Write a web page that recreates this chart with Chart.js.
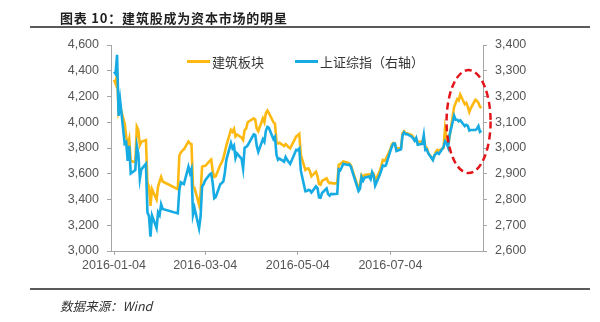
<!DOCTYPE html>
<html>
<head>
<meta charset="utf-8">
<script src="https://cdn.jsdelivr.net/npm/chart.js@4.4.1/dist/chart.umd.min.js"></script>
<style>
  body { margin: 0; background: #fff; }
  #wrap { position: relative; width: 600px; height: 322px; overflow: hidden; font-family: "Noto Sans CJK SC", sans-serif; }
  #chart { position: absolute; left: 0; top: 0; }
  .title { position: absolute; left: 60px; top: 8px; font-size: 13px; font-weight: bold; color: #1f1f1f; letter-spacing: 0.8px; white-space: nowrap; }
  .rule { position: absolute; left: 30px; width: 560px; height: 2px; background: #5a5a5a; }
  .source { position: absolute; left: 60px; top: 296px; font-size: 12.5px; font-style: italic; color: #333; white-space: nowrap; }
  .legend { position: absolute; top: 52px; font-size: 13px; color: #333; white-space: nowrap; display: flex; align-items: center; }
  .legend i { display: inline-block; width: 23px; height: 3px; margin-right: 2px; }
</style>
</head>
<body>
<div id="wrap">
  <canvas id="chart" width="600" height="322"></canvas>
  <div class="title">图表 10：建筑股成为资本市场的明星</div>
  <div class="rule" style="top:26px"></div>
  <div class="rule" style="top:288px"></div>
  <div class="source">数据来源：Wind</div>
  <div class="legend" style="left:187px"><i style="background:#FDB912"></i>建筑板块</div>
  <div class="legend" style="left:295px"><i style="background:#16ABE3"></i>上证综指（右轴）</div>
</div>
<script>
// trading days, 2016-01-04 .. 2016-09-02
const dates = [
  '2016-01-04','2016-01-05','2016-01-06','2016-01-07','2016-01-08','2016-01-11','2016-01-12','2016-01-13','2016-01-14','2016-01-15',
  '2016-01-18','2016-01-19','2016-01-20','2016-01-21','2016-01-22','2016-01-25','2016-01-26','2016-01-27','2016-01-28','2016-01-29',
  '2016-02-01','2016-02-02','2016-02-03','2016-02-04','2016-02-05','2016-02-15','2016-02-16','2016-02-17','2016-02-18','2016-02-19',
  '2016-02-22','2016-02-23','2016-02-24','2016-02-25','2016-02-26','2016-02-29',
  '2016-03-01','2016-03-02','2016-03-03','2016-03-04','2016-03-07','2016-03-08','2016-03-09','2016-03-10','2016-03-11','2016-03-14',
  '2016-03-15','2016-03-16','2016-03-17','2016-03-18','2016-03-21','2016-03-22','2016-03-23','2016-03-24','2016-03-25','2016-03-28',
  '2016-03-29','2016-03-30','2016-03-31',
  '2016-04-01','2016-04-05','2016-04-06','2016-04-07','2016-04-08','2016-04-11','2016-04-12','2016-04-13','2016-04-14','2016-04-15',
  '2016-04-18','2016-04-19','2016-04-20','2016-04-21','2016-04-22','2016-04-25','2016-04-26','2016-04-27','2016-04-28','2016-04-29',
  '2016-05-03','2016-05-04','2016-05-05','2016-05-06','2016-05-09','2016-05-10','2016-05-11','2016-05-12','2016-05-13','2016-05-16',
  '2016-05-17','2016-05-18','2016-05-19','2016-05-20','2016-05-23','2016-05-24','2016-05-25','2016-05-26','2016-05-27','2016-05-30',
  '2016-05-31',
  '2016-06-01','2016-06-02','2016-06-03','2016-06-06','2016-06-07','2016-06-08','2016-06-13','2016-06-14','2016-06-15','2016-06-16',
  '2016-06-17','2016-06-20','2016-06-21','2016-06-22','2016-06-23','2016-06-24','2016-06-27','2016-06-28','2016-06-29','2016-06-30',
  '2016-07-01','2016-07-04','2016-07-05','2016-07-06','2016-07-07','2016-07-08','2016-07-11','2016-07-12','2016-07-13','2016-07-14',
  '2016-07-15','2016-07-18','2016-07-19','2016-07-20','2016-07-21','2016-07-22','2016-07-25','2016-07-26','2016-07-27','2016-07-28',
  '2016-07-29',
  '2016-08-01','2016-08-02','2016-08-03','2016-08-04','2016-08-05','2016-08-08','2016-08-09','2016-08-10','2016-08-11','2016-08-12',
  '2016-08-15','2016-08-16','2016-08-17','2016-08-18','2016-08-19','2016-08-22','2016-08-23','2016-08-24','2016-08-25','2016-08-26',
  '2016-08-29','2016-08-30','2016-08-31',
  '2016-09-01','2016-09-02'
];

// 建筑板块 (left axis)
const buildIdx = [
  4330,4300,4380,4080,4120,3990,3890,3820,3870,3700,3690,3966,3940,3823,3849,3862,3530,3500,3350,3480,
  3400,3500,3540,3575,3540,3480,3740,3765,3780,3790,3850,3835,3830,3500,3490,3360,
  3450,3655,3660,3660,3700,3710,3620,3575,3580,3670,3690,3720,3770,3820,3940,3925,3948,3890,3905,3880,3862,3940,3950,
  4000,4030,4020,3950,3930,4030,4000,4070,4090,4070,4000,3990,3845,3835,3840,3815,3830,3820,3805,3797,
  3890,3900,3910,3746,3630,3640,3642,3620,3580,3616,3580,3520,3515,3545,3565,3538,3526,3530,3525,3525,3670,
  3675,3685,3695,3685,3680,3665,3485,3520,3590,3575,3590,3595,3585,3610,3600,3545,3620,3660,3707,3700,
  3715,3790,3830,3840,3830,3797,3800,3915,3930,3915,3914,3900,3885,3862,3870,3850,3849,3880,3810,3800,3760,
  3712,3740,3771,3785,3780,3800,3950,3880,3830,3890,4120,4150,4180,4170,4215,4140,4150,4120,4080,4110,4175,4165,4150,
  4120,4110
];

// 上证综指 (right axis)
const shIdx = [
  3296,3288,3362,3125,3186,3017,3023,2950,3008,2901,2914,3008,2977,2880,2917,2939,2750,2736,2656,2738,
  2689,2750,2739,2781,2763,2746,2837,2867,2863,2860,2927,2903,2919,2741,2767,2688,
  2733,2850,2860,2874,2897,2901,2863,2805,2810,2860,2864,2870,2905,2955,3019,2999,3009,2961,2979,2958,2920,3001,3004,
  3010,3053,3051,3008,2985,3034,3024,3067,3082,3078,3034,3043,2973,2954,2959,2947,2965,2954,2946,2938,
  2993,2991,2998,2913,2832,2833,2837,2836,2827,2851,2844,2808,2807,2825,2843,2821,2815,2822,2821,2822,2917,
  2914,2925,2939,2934,2936,2927,2833,2842,2887,2873,2885,2889,2879,2906,2892,2854,2896,2913,2932,2930,
  2932,2989,3006,3017,3017,2988,2995,3049,3061,3054,3054,3044,3037,3028,3039,3013,3016,3050,2992,2994,2979,
  2953,2971,2978,2982,2977,3004,3026,3019,3003,3051,3125,3110,3110,3104,3108,3085,3090,3086,3068,3070,3070,3075,3085,
  3063,3067
];

const tickLabels = ['2016-01-04', '2016-03-04', '2016-05-04', '2016-07-04'];

// dashed ring around the late-August run-up: [start, end] dates and left-axis levels
const ringDates = ['2016-08-10', '2016-09-08'];
const ringLevels = [3605, 4405];

const ORANGE = '#FDB912';
const BLUE = '#16ABE3';
const AXIS = '#A6A6A6';
const TICK_FONT = { family: 'Liberation Sans, Arial, sans-serif', size: 12.5 };

const t0 = Date.parse(dates[0]);
const dayOf = d => (Date.parse(d) - t0) / 864e5;
const days = dates.map(dayOf);
const tickDays = tickLabels.map(dayOf);
const fmt = v => v.toLocaleString('en-US');

const ringPlugin = {
  id: 'ring',
  afterDatasetsDraw(chart) {
    const { ctx, scales: { x, yL } } = chart;
    const x1 = x.getPixelForValue(dayOf(ringDates[0]));
    const x2 = x.getPixelForValue(dayOf(ringDates[1]));
    const y1 = yL.getPixelForValue(ringLevels[1]);
    const y2 = yL.getPixelForValue(ringLevels[0]);
    ctx.save();
    ctx.strokeStyle = '#E3151B';
    ctx.lineWidth = 2.5;
    ctx.setLineDash([7, 4]);
    ctx.beginPath();
    ctx.ellipse((x1 + x2) / 2, (y1 + y2) / 2, (x2 - x1) / 2, (y2 - y1) / 2, 0, 0, Math.PI * 2);
    ctx.stroke();
    ctx.restore();
  }
};

new Chart(document.getElementById('chart'), {
  type: 'line',
  data: {
    datasets: [{
      label: '建筑板块',
      data: days.map((d, i) => ({ x: d, y: buildIdx[i] })),
      yAxisID: 'yL',
      borderColor: ORANGE,
      borderWidth: 2.6,
      pointRadius: 0,
      tension: 0,
      order: 2
    }, {
      label: '上证综指（右轴）',
      data: days.map((d, i) => ({ x: d, y: shIdx[i] })),
      yAxisID: 'yR',
      borderColor: BLUE,
      borderWidth: 2.6,
      pointRadius: 0,
      tension: 0,
      order: 1
    }]
  },
  options: {
    responsive: false,
    animation: false,
    layout: { padding: { top: 45, left: 0, right: 0, bottom: 0 } },
    plugins: { legend: { display: false }, tooltip: { enabled: false } },
    scales: {
      x: {
        type: 'linear',
        min: -2,
        max: 243,
        afterBuildTicks: s => { s.ticks = tickDays.map(v => ({ value: v })); },
        afterFit: s => { s.height = 71; },
        ticks: {
          callback: v => tickLabels[tickDays.indexOf(v)],
          autoSkip: false,
          maxRotation: 0,
          padding: 3,
          font: TICK_FONT,
          color: '#555'
        },
        grid: { drawOnChartArea: false, tickLength: 4, color: AXIS },
        border: { color: AXIS }
      },
      yL: {
        position: 'left',
        min: 3000,
        max: 4600,
        afterFit: s => { s.width = 111; },
        ticks: { stepSize: 200, callback: fmt, padding: 8, font: TICK_FONT, color: '#555' },
        grid: { drawOnChartArea: false, tickLength: 4, color: AXIS },
        border: { color: AXIS }
      },
      yR: {
        position: 'right',
        min: 2600,
        max: 3400,
        afterFit: s => { s.width = 117; },
        ticks: { stepSize: 100, callback: fmt, padding: 8, font: TICK_FONT, color: '#555' },
        grid: { drawOnChartArea: false, tickLength: 4, color: AXIS },
        border: { color: AXIS }
      }
    }
  },
  plugins: [ringPlugin]
});
</script>
</body>
</html>
